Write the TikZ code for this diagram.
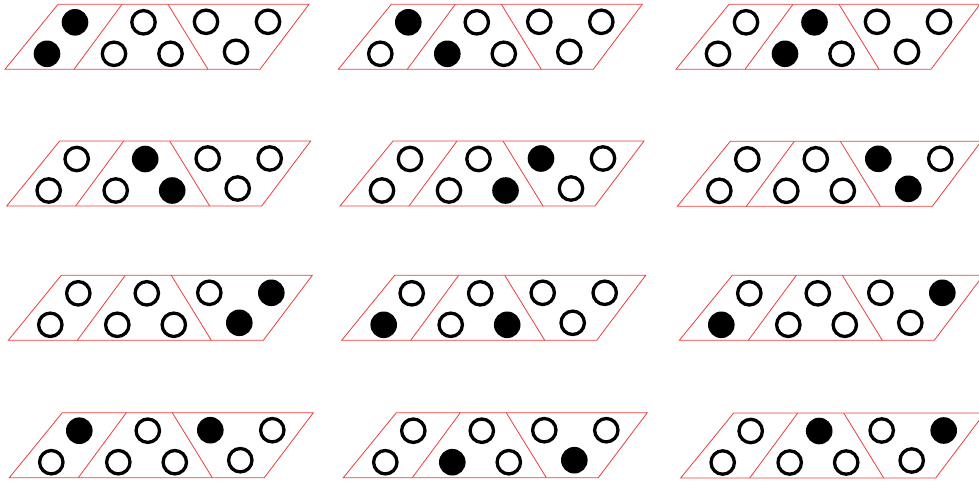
\documentclass[tikz,border=0pt]{standalone}
\definecolor{framered}{RGB}{238,60,60}
\tikzset{
  frame/.style={draw=framered, line width=0.8pt, line join=miter},
  ring/.style={draw=black, line width=3.3pt},
  dotfill/.style={fill=black},
}
\newcommand\drawpanel[3]{%
  \begin{scope}[shift={(#1,#2)}]
    \draw[frame] (0,0) -- (53,-65) -- (304,-65) -- (255,0) -- cycle;
    \draw[frame] (69,0) -- (117,-65);
    \draw[frame] (163,-65) -- (203,0);
    \coordinate (c1) at (70,-47);
    \coordinate (c2) at (42,-15.5);
    \coordinate (c3) at (138.5,-47);
    \coordinate (c4) at (109,-15.5);
    \coordinate (c5) at (165.5,-15.5);
    \coordinate (c6) at (201,-47.5);
    \coordinate (c7) at (263,-47.5);
    \coordinate (c8) at (231,-17.5);
    \foreach \s [count=\i] in {#3} {%
      \ifnum\s=1
        \fill[dotfill] (c\i) circle[radius=13.3pt];
      \else
        \draw[ring] (c\i) circle[radius=11.7pt];
      \fi
    }
  \end{scope}}
\begin{document}
\begin{tikzpicture}[x=1pt,y=-1pt]
  \useasboundingbox (0,0) rectangle (979,483);
  \clip (0,0) rectangle (979,483);
  \drawpanel{5}{69.3}{1,1,0,0,0,0,0,0}
  \drawpanel{338.3}{69.3}{1,0,0,1,0,0,0,0}
  \drawpanel{676}{69.3}{0,0,1,1,0,0,0,0}
  \drawpanel{6.7}{206}{0,0,1,0,1,0,0,0}
  \drawpanel{340}{206}{0,0,0,0,1,1,0,0}
  \drawpanel{677.3}{206.3}{0,0,0,0,0,1,0,1}
  \drawpanel{8.3}{340.3}{0,0,0,0,0,0,1,1}
  \drawpanel{341.7}{340.3}{0,1,0,0,1,0,0,0}
  \drawpanel{679.3}{340.3}{0,1,0,0,0,0,1,0}
  \drawpanel{9.3}{477.7}{1,0,0,0,0,1,0,0}
  \drawpanel{343.3}{477.7}{0,0,0,1,0,0,0,1}
  \drawpanel{680.7}{478}{0,0,1,0,0,0,1,0}
\end{tikzpicture}
\end{document}
